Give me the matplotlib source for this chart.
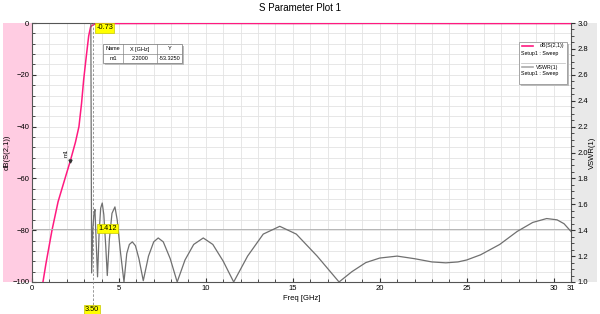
import matplotlib
matplotlib.use("Agg")
import matplotlib.pyplot as plt
from matplotlib.patches import Rectangle
from matplotlib.ticker import MultipleLocator
from matplotlib.lines import Line2D

plt.rcParams["font.family"] = ["Liberation Sans", "DejaVu Sans"]

# dB(S(2,1))
s21_freq = [0.63, 0.8, 1.15, 1.5, 1.9, 2.2, 2.5, 2.7, 2.85, 2.97, 3.12, 3.26, 3.37,
            3.5, 3.7, 5.0, 10.0, 15.0, 20.0, 25.0, 31.0]
s21_db = [-100, -93, -80, -69, -60, -53.325, -46, -40, -31, -22, -13, -5, -1.5,
          -0.73, -0.3, -0.2, -0.15, -0.2, -0.15, -0.2, -0.2]

# VSWR(1)
vswr_freq = [3.0, 3.38, 3.43, 3.5, 3.56, 3.62, 3.68, 3.77, 3.86, 3.95, 4.04, 4.13, 4.24,
             4.33, 4.45, 4.6, 4.77, 4.9, 5.08, 5.29, 5.45, 5.6, 5.77, 5.95, 6.15,
             6.4, 6.7, 7.0, 7.26, 7.55, 7.95, 8.35, 8.8, 9.3, 9.85, 10.4, 11.0,
             11.6, 12.4, 13.3, 14.25, 15.2, 16.4, 17.66, 18.4, 19.2, 20.0, 21.0,
             22.0, 23.0, 23.8, 24.5, 25.0, 25.8, 26.9, 27.9, 28.8, 29.6, 30.2, 30.6, 31.0]
vswr = [6.0, 3.2, 1.07, 1.412, 1.52, 1.56, 1.35, 1.04, 1.38, 1.57, 1.61, 1.52, 1.28,
        1.05, 1.33, 1.53, 1.58, 1.48, 1.24, 1.0, 1.22, 1.29, 1.31, 1.28, 1.18,
        1.01, 1.2, 1.31, 1.34, 1.31, 1.18, 1.0, 1.17, 1.29, 1.34, 1.29, 1.16,
        1.0, 1.2, 1.37, 1.43, 1.37, 1.2, 1.0, 1.08, 1.15, 1.185, 1.2,
        1.18, 1.155, 1.148, 1.155, 1.17, 1.21, 1.29, 1.39, 1.46, 1.49, 1.48, 1.45, 1.39]

x_ticks = [0, 5, 10, 15, 20, 25, 30, 31]
m1_freq, m1_db = 2.2, -53.325
m2_freq, m2_db, m2_vswr = 3.5, -0.73, 1.412

pink = "#ff1a80"
grey = "#707070"
W, H = 600, 314

fig = plt.figure(figsize=(6, 3.14), dpi=100)
fig.patches.append(Rectangle((3 / W, 32 / H), 29 / W, 259 / H, transform=fig.transFigure,
                             facecolor="#ffcce2", edgecolor="none", zorder=-5))
fig.patches.append(Rectangle((572 / W, 32 / H), 25 / W, 259 / H, transform=fig.transFigure,
                             facecolor="#e9e9e9", edgecolor="none", zorder=-5))

ax = fig.add_axes([32 / W, 32 / H, 539 / W, 259 / H])
ax.set_xlim(0, 31)
ax.set_ylim(-100, 0)
ax.set_xticks(x_ticks)
ax.xaxis.set_minor_locator(MultipleLocator(1))
ax.yaxis.set_major_locator(MultipleLocator(20))
ax.yaxis.set_minor_locator(MultipleLocator(4))
ax.grid(True, which="both", color="#e3e3e3", linewidth=0.6)
ax.set_axisbelow(True)
ax.tick_params(axis="both", which="both", labelsize=5.5, direction="in", color="#333333", pad=2)
ax.tick_params(axis="both", which="major", length=3)
ax.tick_params(axis="both", which="minor", length=2)
ax.set_xlabel("Freq [GHz]", fontsize=5.5, labelpad=2)
ax.set_ylabel("dB(S(2,1))", fontsize=5.5, labelpad=1)
for s in ax.spines.values():
    s.set_color("#555555")
    s.set_linewidth(0.8)

ax2 = ax.twinx()
ax2.set_ylim(1.0, 3.0)
ax2.yaxis.set_major_locator(MultipleLocator(0.2))
ax2.yaxis.set_minor_locator(MultipleLocator(0.05))
ax2.yaxis.set_major_formatter(plt.FormatStrFormatter("%.1f"))
ax2.tick_params(axis="y", which="both", labelsize=5.5, direction="out", color="#333333", pad=2)
ax2.tick_params(axis="y", which="major", length=3)
ax2.tick_params(axis="y", which="minor", length=2)
ax2.set_ylabel("VSWR(1)", fontsize=5.5, labelpad=0.5)
for s in ax2.spines.values():
    s.set_visible(False)

# marker line for 1.412
ax2.axhline(m2_vswr, color="#b5b5b5", linewidth=0.7, zorder=1)
ax2.plot(vswr_freq, vswr, color=grey, linewidth=0.9, zorder=3)
ax.plot(s21_freq, s21_db, color=pink, linewidth=1.1, zorder=4)

# marker m2 dashed line
ax.plot([m2_freq, m2_freq], [1.0, -0.09], transform=ax.get_xaxis_transform(),
        color="#888888", linewidth=0.6, linestyle=(0, (3, 2)), clip_on=False, zorder=5)

box = dict(boxstyle="square,pad=0.15", facecolor="#ffff00", edgecolor="#c8c800", linewidth=0.5)
ax.text(m2_freq + 0.2, m2_db - 1.2, "-0.73", fontsize=5.3, va="center", ha="left", bbox=box, zorder=6,
        clip_on=False)
ax2.text(m2_freq + 0.3, m2_vswr, "1.412", fontsize=5.3, va="center", ha="left", bbox=box, zorder=6)
ax.text(m2_freq - 0.05, -0.105, "3.50", transform=ax.get_xaxis_transform(), fontsize=5.3,
        va="center", ha="center", bbox=box, clip_on=False, zorder=6)

# marker m1
ax.plot([m1_freq], [m1_db], marker="v", markersize=2.2, color="#333333", zorder=6)
ax.text(m1_freq - 0.1, m1_db + 1.5, "m1", fontsize=4.2, ha="right", va="bottom", rotation=90, zorder=6)

# marker table
tx0, tx1, tx2, tx3 = 103 / W, 123 / W, 157 / W, 182 / W
ty0, ty1, ty2 = 1 - 44 / H, 1 - 54 / H, 1 - 63 / H
fig.patches.append(Rectangle((tx0 + 2 / W, ty2 - 2 / H), tx3 - tx0, ty0 - ty2, transform=fig.transFigure,
                             facecolor="#bbbbbb", edgecolor="none", zorder=7))
fig.patches.append(Rectangle((tx0, ty2), tx3 - tx0, ty0 - ty2, transform=fig.transFigure,
                             facecolor="white", edgecolor="#888888", linewidth=0.6, zorder=8))
for xv in (tx1, tx2):
    fig.add_artist(Line2D([xv, xv], [ty2, ty0], color="#888888", linewidth=0.5, zorder=9))
fig.add_artist(Line2D([tx0, tx3], [ty1, ty1], color="#888888", linewidth=0.5, zorder=9))
for (xa, xb), hdr, val in zip([(tx0, tx1), (tx1, tx2), (tx2, tx3)],
                              ["Name", "X [GHz]", "Y"], ["m1", "2.2000", "-53.3250"]):
    fig.text((xa + xb) / 2, (ty0 + ty1) / 2, hdr, fontsize=4, ha="center", va="center", zorder=10)
    fig.text((xa + xb) / 2, (ty1 + ty2) / 2, val, fontsize=4, ha="center", va="center", zorder=10)

# legend box
lx0, lx1 = 519 / W, 567 / W
ly0, ly1 = 1 - 42 / H, 1 - 84 / H
fig.patches.append(Rectangle((lx0 + 2 / W, ly1 - 2 / H), lx1 - lx0, ly0 - ly1, transform=fig.transFigure,
                             facecolor="#bbbbbb", edgecolor="none", zorder=7))
fig.patches.append(Rectangle((lx0, ly1), lx1 - lx0, ly0 - ly1, transform=fig.transFigure,
                             facecolor="white", edgecolor="#999999", linewidth=0.6, zorder=8))
fig.add_artist(Line2D([lx0 + 2 / W, lx1 - 2 / W], [1 - 63 / H] * 2, color="#bbbbbb", linewidth=0.5, zorder=9))
fig.add_artist(Line2D([522 / W, 533 / W], [1 - 46 / H] * 2, color=pink, linewidth=1.2, zorder=9))
fig.add_artist(Line2D([522 / W, 533 / W], [1 - 67 / H] * 2, color="#aaaaaa", linewidth=1.2, zorder=9))
fig.text(564 / W, 1 - 46 / H, "dB(S(2,1))", fontsize=3.8, ha="right", va="center", zorder=10)
fig.text(521 / W, 1 - 53 / H, "Setup1 : Sweep", fontsize=3.8, ha="left", va="center", zorder=10)
fig.text(558 / W, 1 - 67 / H, "VSWR(1)", fontsize=3.8, ha="right", va="center", zorder=10)
fig.text(521 / W, 1 - 74 / H, "Setup1 : Sweep", fontsize=3.8, ha="left", va="center", zorder=10)

fig.text(0.5, 1 - 8 / H, "S Parameter Plot 1", fontsize=7, ha="center", va="center")

fig.savefig("out.png", dpi=100)
